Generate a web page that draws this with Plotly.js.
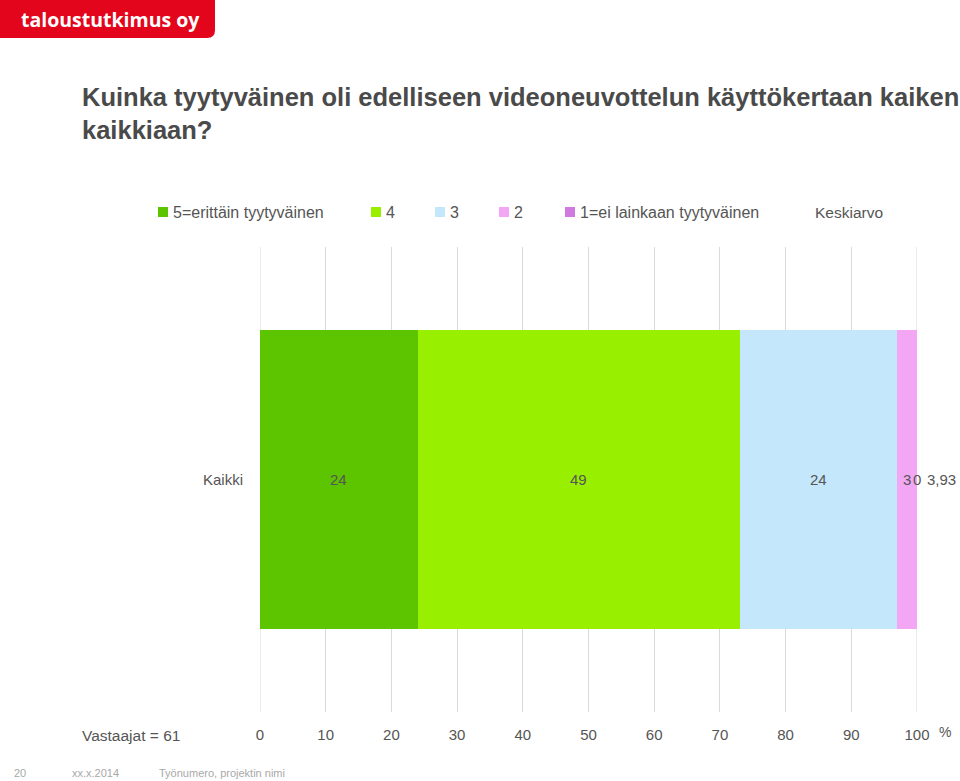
<!DOCTYPE html>
<html>
<head>
<meta charset="utf-8">
<script src="https://cdn.plot.ly/plotly-3.0.1.min.js"></script>
<style>
  html, body { margin: 0; padding: 0; background: #fff; }
  #chart { width: 960px; height: 781px; }
</style>
</head>
<body>
<div id="chart"></div>
<script>
// ── Data ──────────────────────────────────────────────────────────────────────
const categories = ['Kaikki'];
const seriesNames = ['5=erittäin tyytyväinen', '4', '3', '2', '1=ei lainkaan tyytyväinen'];
const seriesValues = [[24], [49], [24], [3], [0]];
const means = [3.93];
const meanLabel = 'Keskiarvo';
const respondents = 61;
const tickVals = [0, 10, 20, 30, 40, 50, 60, 70, 80, 90, 100];

// ── Style ─────────────────────────────────────────────────────────────────────
const COLORS = ['#5dc400', '#99ef00', '#c5e7fb', '#f2a6f4', '#d07ae0'];
const FONT = 'Liberation Sans, Arial, sans-serif';
const TXT = '#555555';
const GRID = '#d9d9d9';

const W = 960, H = 781;
const M = { l: 260, r: 43, t: 247, b: 69 };

// px → paper helpers for decorations outside the plot area
const px = x => (x - M.l) / (W - M.l - M.r);
const py = y => 1 - (y - M.t) / (H - M.t - M.b);

// ── Bar traces ────────────────────────────────────────────────────────────────
const traces = seriesNames.map((name, i) => ({
  type: 'bar',
  orientation: 'h',
  name: name,
  y: categories,
  x: seriesValues[i],
  marker: { color: COLORS[i], line: { width: 0 } },
  hoverinfo: 'x+name',
  showlegend: false
}));

// ── Segment labels (centred on each segment, zero ones too) ──────────────────
const annotations = [];
categories.forEach((cat, c) => {
  let cum = 0;
  seriesValues.forEach(vals => {
    const v = vals[c];
    annotations.push({
      x: cum + v / 2, y: cat, xref: 'x', yref: 'y',
      xanchor: 'center', yanchor: 'middle',
      text: String(v), showarrow: false,
      font: { family: FONT, size: 15, color: TXT }
    });
    cum += v;
  });
  // mean to the right of the plot
  annotations.push({
    x: px(941), y: cat, xref: 'paper', yref: 'y',
    xanchor: 'center', yanchor: 'middle',
    text: means[c].toFixed(2).replace('.', ','), showarrow: false,
    font: { family: FONT, size: 15, color: TXT }
  });
});

// ── Edge gridlines (Plotly drops the ones sitting on the range ends) ─────────
const shapes = [tickVals[0], tickVals[tickVals.length - 1]].map(v => ({
  type: 'line', xref: 'x', yref: 'paper', layer: 'below',
  x0: v, x1: v, y0: 0, y1: 1,
  line: { color: GRID, width: 1 }
}));

// ── Custom legend row ─────────────────────────────────────────────────────────
const legendX = [158, 371, 435, 499, 565];
seriesNames.forEach((name, i) => {
  shapes.push({
    type: 'rect', xref: 'paper', yref: 'paper',
    x0: px(legendX[i]), x1: px(legendX[i] + 10),
    y0: py(217), y1: py(207),
    fillcolor: COLORS[i], line: { width: 0 }
  });
  annotations.push({
    x: px(legendX[i] + 13), y: py(212), xref: 'paper', yref: 'paper',
    xanchor: 'left', yanchor: 'middle', text: name, showarrow: false,
    font: { family: FONT, size: 16, color: TXT }
  });
});
annotations.push({
  x: px(813), y: py(212), xref: 'paper', yref: 'paper',
  xanchor: 'left', yanchor: 'middle', text: meanLabel, showarrow: false,
  font: { family: FONT, size: 15.5, color: TXT }
});

// ── Title ─────────────────────────────────────────────────────────────────────
annotations.push({
  x: px(80), y: py(81), xref: 'paper', yref: 'paper',
  xanchor: 'left', yanchor: 'top', align: 'left', showarrow: false,
  text: '<b>Kuinka tyytyväinen oli edelliseen videoneuvottelun käyttökertaan kaiken<br>kaikkiaan?</b>',
  font: { family: FONT, size: 25.5, color: '#4a4a4a' }
});

// ── Respondents + % sign ─────────────────────────────────────────────────────
annotations.push({
  x: px(80), y: py(735), xref: 'paper', yref: 'paper',
  xanchor: 'left', yanchor: 'middle', showarrow: false,
  text: 'Vastaajat = ' + respondents,
  font: { family: FONT, size: 15.5, color: TXT }
});
annotations.push({
  x: px(937), y: py(732), xref: 'paper', yref: 'paper',
  xanchor: 'left', yanchor: 'middle', showarrow: false, text: '%',
  font: { family: FONT, size: 14, color: TXT }
});

// ── Footer ───────────────────────────────────────────────────────────────────
[['20', 12], ['xx.x.2014', 70], ['Työnumero, projektin nimi', 157]].forEach(([t, x]) => {
  annotations.push({
    x: px(x), y: py(773), xref: 'paper', yref: 'paper',
    xanchor: 'left', yanchor: 'middle', showarrow: false, text: t,
    font: { family: FONT, size: 11, color: '#a8a8a8' }
  });
});

// ── Logo ─────────────────────────────────────────────────────────────────────
shapes.push({
  type: 'path', xref: 'paper', yref: 'paper',
  path: `M ${px(0)} ${py(0)} L ${px(215)} ${py(0)} L ${px(215)} ${py(30)} ` +
        `Q ${px(215)} ${py(38)} ${px(207)} ${py(38)} L ${px(0)} ${py(38)} Z`,
  fillcolor: '#e3051b', line: { width: 0 }
});
annotations.push({
  x: px(19), y: py(19), xref: 'paper', yref: 'paper',
  xanchor: 'left', yanchor: 'middle', showarrow: false,
  text: '<b>taloustutkimus oy</b>',
  font: { family: 'Open Sans, ' + FONT, size: 19.5, color: '#ffffff' }
});

// ── Layout ───────────────────────────────────────────────────────────────────
const layout = {
  width: W, height: H,
  margin: M,
  paper_bgcolor: '#ffffff',
  plot_bgcolor: '#ffffff',
  barmode: 'stack',
  bargap: 0.355,
  showlegend: false,
  font: { family: FONT, size: 15, color: TXT },
  xaxis: {
    range: [0, 100],
    tickvals: tickVals,
    ticktext: tickVals.map(String),
    showgrid: true, gridcolor: GRID, gridwidth: 1,
    zeroline: false, showline: false, ticks: '',
    ticklabelstandoff: 12,
    tickfont: { family: FONT, size: 15, color: TXT },
    fixedrange: true
  },
  yaxis: {
    showgrid: false, zeroline: false, showline: false, ticks: '',
    ticklabelstandoff: 16,
    tickfont: { family: FONT, size: 15, color: TXT },
    fixedrange: true
  },
  shapes,
  annotations
};

Plotly.newPlot('chart', traces, layout, { displayModeBar: false, staticPlot: true });
</script>
</body>
</html>
